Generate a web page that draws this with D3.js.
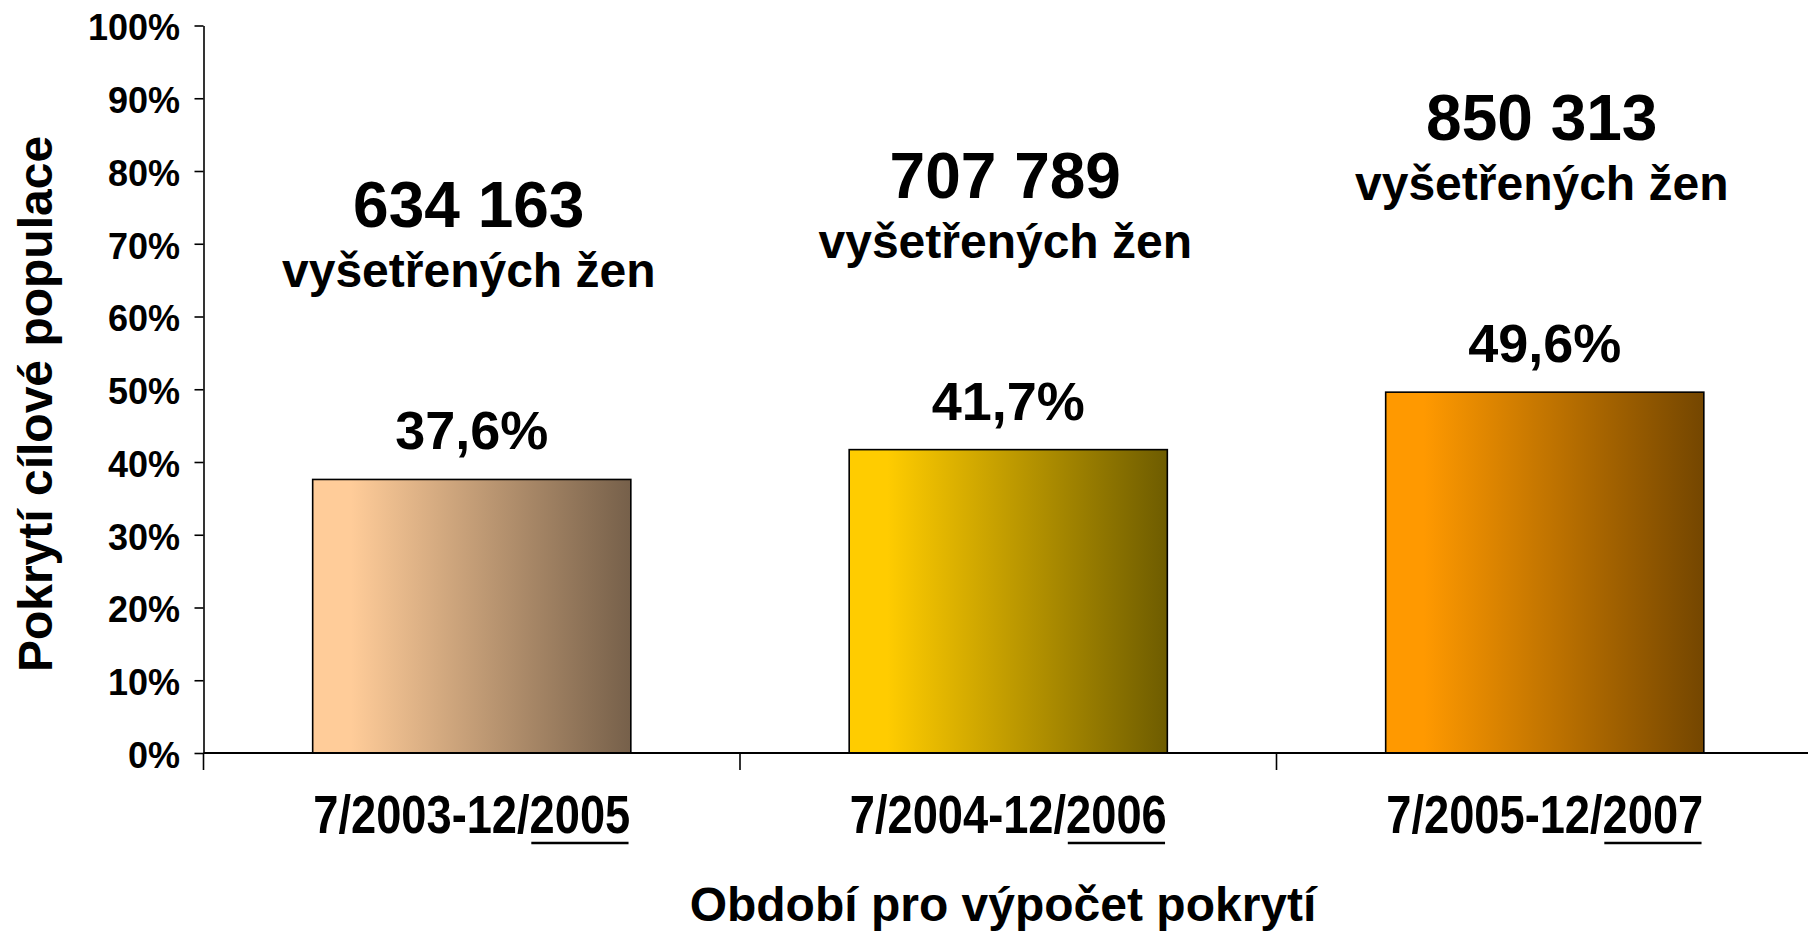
<!DOCTYPE html>
<html><head><meta charset="utf-8">
<script src="https://cdn.jsdelivr.net/npm/d3@7"></script>
<style>
html,body{margin:0;padding:0;background:#fff;}
svg{display:block;}
text{font-family:Arial,"Liberation Sans",sans-serif;font-weight:bold;fill:#000;}
</style></head>
<body>
<script>
// ---- data ----
const categories = ["7/2003-12/2005", "7/2004-12/2006", "7/2005-12/2007"];
const coverage = [37.6, 41.7, 49.6];              // % of target population
const examined = [634163, 707789, 850313];        // number of women examined
const examinedLabel = "vyšetřených žen";
const yTicks = [0, 10, 20, 30, 40, 50, 60, 70, 80, 90, 100];
const yTitle = "Pokrytí cílové populace";
const xTitle = "Období pro výpočet pokrytí";
const barLight = ["#FFCC99", "#FFCC00", "#FF9900"];
const barDark  = ["#76604A", "#6E5C00", "#744600"];

// ---- layout ----
const W = 1808, H = 933;
const svg = d3.select("body").append("svg").attr("width", W).attr("height", H);

const x = d3.scaleBand().domain(categories).range([203.5, 1813])
  .paddingInner(0.407).paddingOuter(0.2035);
const y = d3.scaleLinear().domain([0, 100]).range([753, 25.5]);

// gradients
const defs = svg.append("defs");
categories.forEach((c, i) => {
  const g = defs.append("linearGradient").attr("id", "g" + i)
    .attr("x1", "0%").attr("x2", "100%").attr("y1", "0%").attr("y2", "0%");
  g.append("stop").attr("offset", "0%").attr("stop-color", barLight[i]);
  g.append("stop").attr("offset", "12%").attr("stop-color", barLight[i]);
  g.append("stop").attr("offset", "100%").attr("stop-color", barDark[i]);
});

// bars
svg.append("g").selectAll("rect").data(categories).join("rect")
  .attr("x", d => x(d)).attr("width", x.bandwidth())
  .attr("y", (d, i) => y(coverage[i])).attr("height", (d, i) => y(0) - y(coverage[i]))
  .attr("fill", (d, i) => `url(#g${i})`)
  .attr("stroke", "#000").attr("stroke-width", 1.6);

// y axis
const yAxis = svg.append("g").attr("transform", `translate(${x.range()[0]},0)`)
  .call(d3.axisLeft(y).tickValues(yTicks).tickSize(9).tickSizeOuter(0).tickPadding(14.5)
    .tickFormat(d => d + "%"));
yAxis.select(".domain").attr("stroke", "#000").attr("stroke-width", 1.6);
yAxis.selectAll(".tick line").attr("stroke", "#000").attr("stroke-width", 1.6);
yAxis.selectAll(".tick text").attr("font-size", 36).attr("font-family", null)
  .attr("dy", "0.4em").style("font-family", 'Arial,"Liberation Sans",sans-serif').style("font-weight", "bold");

// x axis line + category boundary ticks
const x0 = x.range()[0];
svg.append("line").attr("x1", x0).attr("x2", W).attr("y1", y(0)).attr("y2", y(0))
  .attr("stroke", "#000").attr("stroke-width", 2.2);
svg.append("g").selectAll("line").data(d3.range(categories.length)).join("line")
  .attr("x1", i => x0 + i * x.step()).attr("x2", i => x0 + i * x.step())
  .attr("y1", y(0)).attr("y2", y(0) + 17)
  .attr("stroke", "#000").attr("stroke-width", 1.6);

// category labels (condensed) with underlined end year
categories.forEach(c => {
  const cx = x(c) + x.bandwidth() / 2;
  const g = svg.append("g");
  const t = g.append("text").attr("x", 0).attr("y", 0)
    .attr("text-anchor", "middle").attr("font-size", 53);
  const head = t.append("tspan").text(c.slice(0, -4));
  const tail = t.append("tspan").text(c.slice(-4));
  const bb = t.node().getBBox();
  const sx = 317 / bb.width;
  const startTail = bb.x + head.node().getComputedTextLength();
  const tailLen = tail.node().getComputedTextLength();
  g.append("line").attr("x1", startTail + 2).attr("x2", startTail + tailLen - 2)
    .attr("y1", 10).attr("y2", 10).attr("stroke", "#000").attr("stroke-width", 2.5);
  g.attr("transform", `translate(${cx},833) scale(${sx},1)`);
});

// value labels
const fmtPct = v => v.toFixed(1).replace(".", ",") + "%";
svg.append("g").selectAll("text").data(categories).join("text")
  .attr("x", d => x(d) + x.bandwidth() / 2)
  .attr("y", (d, i) => y(coverage[i]) - 30)
  .attr("text-anchor", "middle").attr("font-size", 54)
  .text((d, i) => fmtPct(coverage[i]));

// examined counts
const loc = d3.formatLocale({decimal: ",", thousands: " ", grouping: [3], currency: ["", ""]});
const fmtCount = loc.format(",d");
categories.forEach((c, i) => {
  const cx = x(c) + x.bandwidth() / 2;
  const base = y(coverage[i]) - 252;
  svg.append("text").attr("x", cx - 3).attr("y", base).attr("text-anchor", "middle")
    .attr("font-size", 64).text(fmtCount(examined[i]));
  svg.append("text").attr("x", cx - 3).attr("y", base + 60).attr("text-anchor", "middle")
    .attr("font-size", 48).text(examinedLabel);
});

// axis titles
svg.append("text").attr("transform", `translate(52,404) rotate(-90)`)
  .attr("text-anchor", "middle").attr("font-size", 48).text(yTitle);
svg.append("text").attr("x", 1003).attr("y", 921)
  .attr("text-anchor", "middle").attr("font-size", 48).text(xTitle);
</script>
</body></html>
